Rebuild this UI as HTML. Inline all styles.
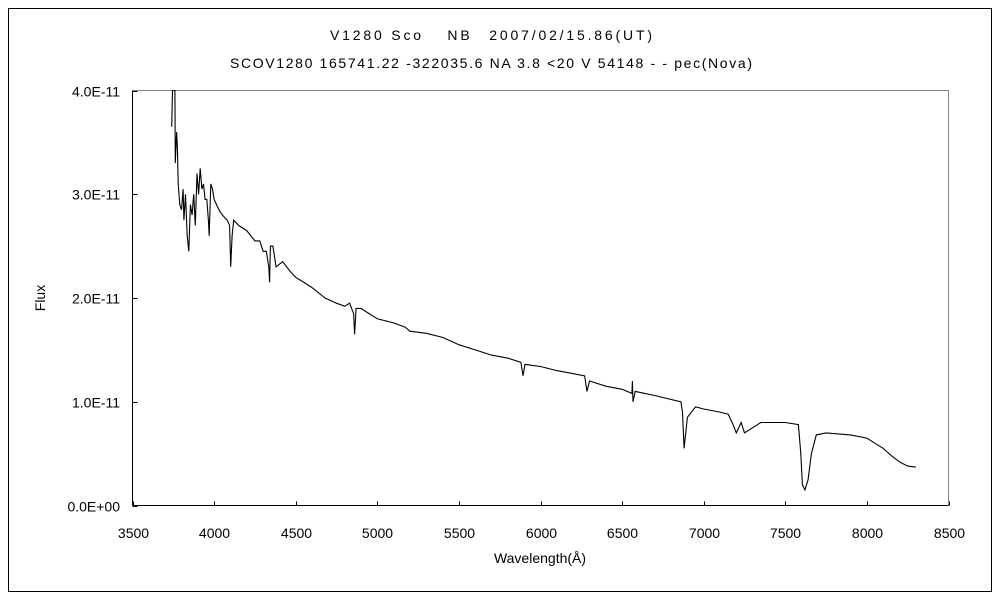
<!DOCTYPE html>
<html><head><meta charset="utf-8"><style>
html,body{margin:0;padding:0;background:#fff}
svg{display:block;font-family:"Liberation Sans","IPAGothic",sans-serif}
</style></head><body>
<svg id="chart" width="1000" height="600">
<rect x="8.5" y="8.5" width="983" height="583" fill="#fff" stroke="#000"/>
<text x="491" y="40" font-size="14" text-anchor="middle" textLength="322">V1280 Sco　 NB　2007/02/15.86(UT)</text>
<text x="491" y="68" font-size="14" text-anchor="middle" textLength="522">SCOV1280 165741.22 -322035.6 NA 3.8 &lt;20 V 54148 - - pec(Nova)</text>
<rect x="132.5" y="90.5" width="816" height="415" fill="none" stroke="#888"/>
<g id="axes"></g>
<g id="series"></g>
<text x="45" y="298" font-size="14" text-anchor="middle" transform="rotate(-90 45 298)">Flux</text>
<text x="540" y="563" font-size="14" text-anchor="middle">Wavelength(Å)</text>
</svg>
<script>
const wavelengths=[3740,3745,3760,3762,3770,3775,3780,3790,3800,3810,3815,3825,3835,3845,3855,3865,3875,3885,3895,3905,3915,3925,3935,3945,3955,3965,3970,3980,3990,4000,4030,4050,4080,4095,4102,4110,4120,4150,4200,4250,4280,4300,4320,4335,4340,4345,4360,4380,4420,4470,4500,4550,4600,4680,4750,4800,4830,4855,4861,4870,4900,4950,5000,5100,5170,5200,5300,5400,5500,5600,5700,5800,5880,5893,5905,6000,6100,6270,6285,6300,6400,6500,6560,6563,6567,6580,6700,6860,6870,6880,6900,6950,7000,7100,7150,7180,7200,7230,7250,7300,7350,7500,7580,7595,7605,7620,7640,7660,7690,7750,7900,8000,8050,8100,8150,8200,8250,8300];
const fluxE11=[3.65,4.2,4.2,3.3,3.6,3.45,3.1,2.9,2.85,3.05,2.75,3.0,2.6,2.45,2.9,2.8,3.0,2.7,3.2,3.0,3.25,3.05,3.1,2.95,2.95,2.75,2.6,3.1,3.05,2.95,2.85,2.8,2.75,2.7,2.3,2.6,2.75,2.7,2.65,2.55,2.55,2.45,2.45,2.3,2.15,2.5,2.5,2.3,2.35,2.25,2.2,2.15,2.1,2.0,1.95,1.92,1.95,1.85,1.65,1.9,1.9,1.85,1.8,1.76,1.72,1.68,1.66,1.62,1.55,1.5,1.45,1.42,1.38,1.25,1.36,1.34,1.3,1.25,1.1,1.2,1.15,1.12,1.08,1.2,1.0,1.1,1.06,1.0,0.9,0.55,0.85,0.95,0.93,0.9,0.88,0.78,0.7,0.8,0.7,0.75,0.8,0.8,0.78,0.5,0.2,0.15,0.25,0.5,0.68,0.7,0.68,0.65,0.6,0.55,0.48,0.42,0.38,0.37];
const xTicks=[3500,4000,4500,5000,5500,6000,6500,7000,7500,8000,8500];
const yTicks=[0,1,2,3,4];
const yTickLabels=["0.0E+00","1.0E-11","2.0E-11","3.0E-11","4.0E-11"];
const NS="http://www.w3.org/2000/svg";
const X0=132.5,X1=948.5,Y0=505.5,Y1=90.5;
function xs(w){return X0+(w-3500)/5000*(X1-X0);}
function ys(f){return Y0-f/4*(Y0-Y1);}
const axes=document.getElementById('axes');
function mk(tag,attrs,parent){const e=document.createElementNS(NS,tag);for(const k in attrs)e.setAttribute(k,attrs[k]);parent.appendChild(e);return e;}
let l=mk('line',{x1:X0,y1:Y1,x2:X0,y2:Y0,stroke:'#000'},axes);


l=mk('line',{x1:X0,y1:Y0,x2:X1,y2:Y0,stroke:'#000'},axes);


xTicks.forEach(v=>{
 const x=Math.round(xs(v))+0.5;
 const t=mk('line',{x1:x,y1:Y0,x2:x,y2:Y0-4,stroke:'#000'},axes);
 
 
 const tx=mk('text',{x:x,y:538,'font-size':14,'text-anchor':'middle'},axes);
 tx.textContent=v;
 
 
});
yTicks.forEach((v,i)=>{
 const y=Math.round(ys(v))+0.5;
 const t=mk('line',{x1:X0,y1:y,x2:X0+5,y2:y,stroke:'#000'},axes);
 
 
 const tx=mk('text',{x:120,y:y+5,'font-size':14,'text-anchor':'end'},axes);
 tx.textContent=yTickLabels[i];
 
 
});
const pts=wavelengths.map((w,i)=>xs(w).toFixed(1)+','+Math.max(Y1,ys(fluxE11[i])).toFixed(1)).join(' ');
const pl=mk('polyline',{points:pts,fill:'none',stroke:'#000','stroke-width':1.1},document.getElementById('series'));


</script>
</body></html>
